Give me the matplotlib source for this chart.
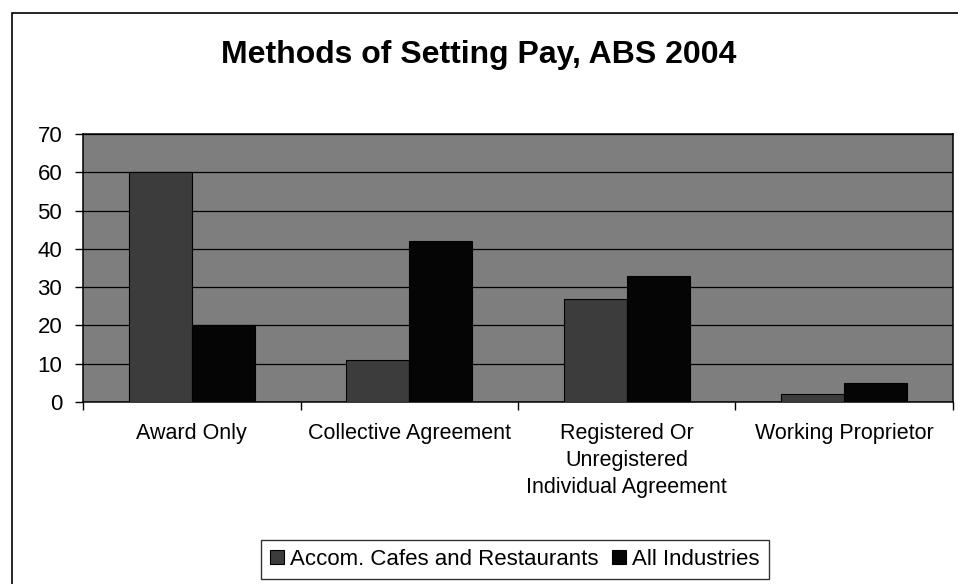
import numpy as np
import matplotlib
matplotlib.use('Agg')
import matplotlib.pyplot as plt
from matplotlib.patches import Rectangle

# data
categories = ['Award Only', 'Collective Agreement',
              'Registered Or\nUnregistered\nIndividual Agreement', 'Working Proprietor']
accom = [60, 11, 27, 2]
all_ind = [20, 42, 33, 5]
series_names = ['Accom. Cafes and Restaurants', 'All Industries']
yticks = [0, 10, 20, 30, 40, 50, 60, 70]

plt.rcParams['font.family'] = ['Liberation Sans', 'DejaVu Sans']

fig = plt.figure(figsize=(9.58, 5.84), dpi=100)
ax = fig.add_axes([83/958, 1 - 402/584, (953-83)/958, (402-134)/584])

x = np.arange(len(categories))
w = 0.29
ax.set_facecolor('#7e7e7e')
b1 = ax.bar(x - w/2, accom, w, color='#3c3c3c', edgecolor='black', linewidth=0.8, zorder=3)
b2 = ax.bar(x + w/2, all_ind, w, color='#050505', edgecolor='black', linewidth=0.8, zorder=3)

ax.set_xlim(-0.5, len(categories) - 0.5)
ax.set_ylim(0, 70)
ax.set_yticks(yticks)
ax.yaxis.grid(True, color='black', linewidth=0.9, zorder=1)
ax.set_axisbelow(True)

ax.set_xticks(x)
ax.set_xticklabels(categories, fontsize=15.5, linespacing=1.38, va='top')
ax.set_xticks(np.arange(-0.5, len(categories)), minor=True)
ax.tick_params(axis='x', which='major', length=0, pad=15)
ax.tick_params(axis='x', which='minor', length=6, width=1, direction='out')
ax.tick_params(axis='y', length=6, width=1, direction='out', pad=9, labelsize=16)

for s in ax.spines.values():
    s.set_color('black')
    s.set_linewidth(1.1)

fig.text(0.5, 1 - 55/584, 'Methods of Setting Pay, ABS 2004', ha='center', va='center',
         fontsize=23, fontweight='bold')

leg = fig.legend([b1, b2], series_names, loc='center', bbox_to_anchor=(515/958, 1 - 559.5/584),
                 ncol=2, fontsize=16, frameon=True, fancybox=False, edgecolor='black',
                 handlelength=0.6, handleheight=0.6, handletextpad=0.3, columnspacing=0.6,
                 borderpad=0.4, borderaxespad=0)
leg.get_frame().set_linewidth(1)

# outer chart border (cut off at the right and bottom in the scan)
fig.add_artist(Rectangle((12/958, -0.1), 1.2, 1.1 - 13/584, transform=fig.transFigure,
                         fill=False, edgecolor='black', linewidth=1.2))

fig.savefig('out.png', dpi=100)
